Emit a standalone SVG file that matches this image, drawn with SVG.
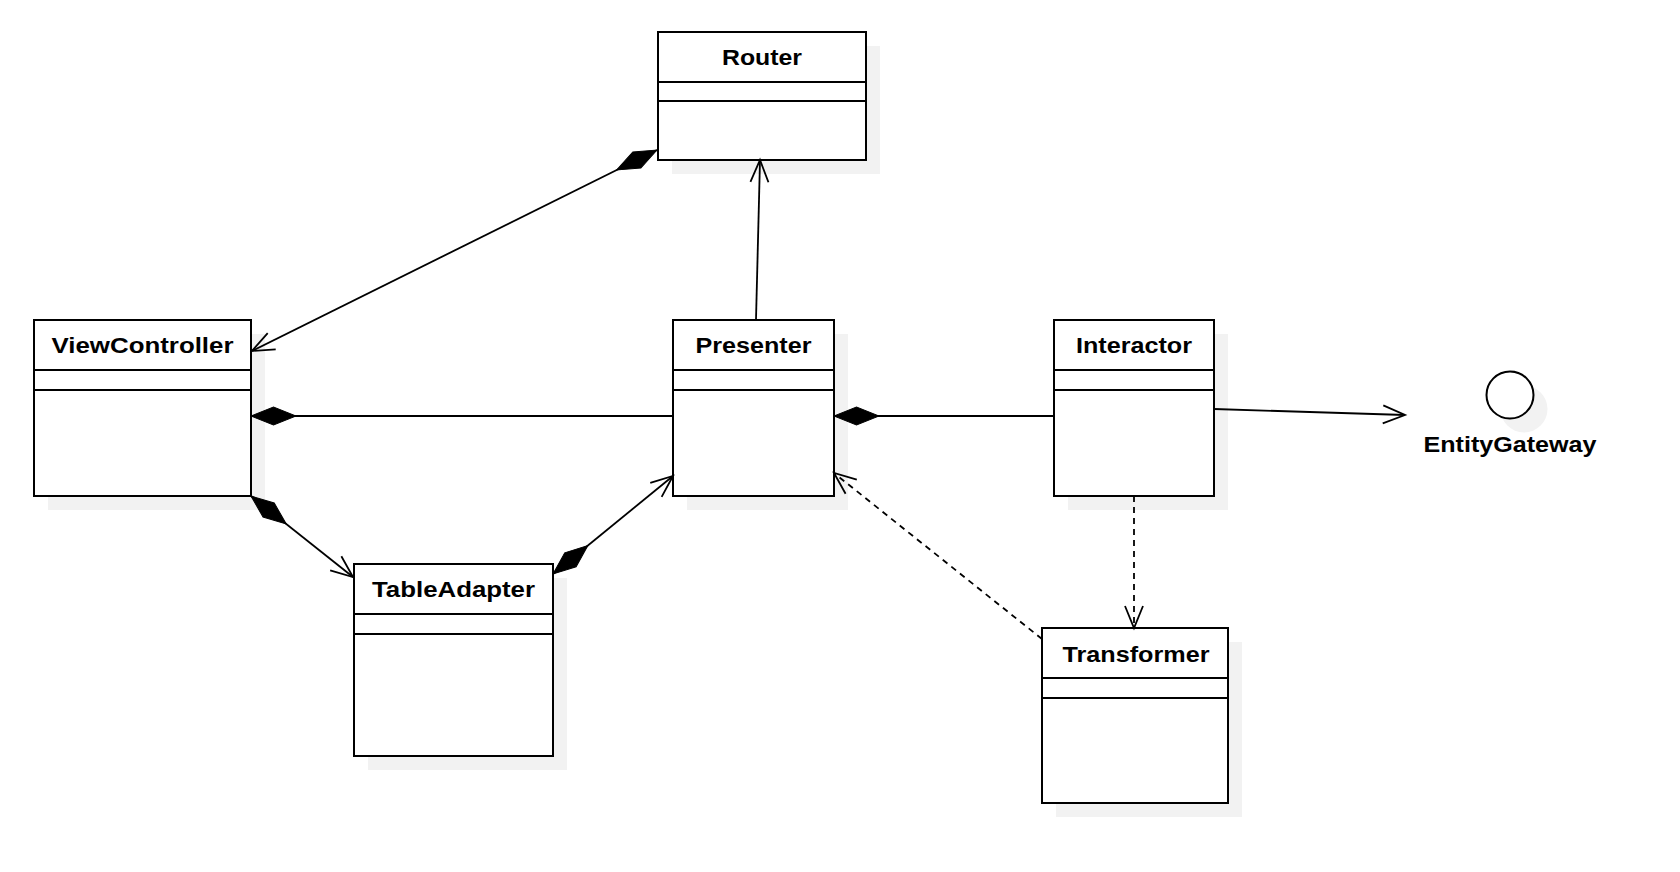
<svg xmlns="http://www.w3.org/2000/svg" width="1680" height="872" viewBox="0 0 1680 872">
<style>
.shadow{fill:#f2f2f2;stroke:none}
.box{fill:#ffffff;stroke:#000000;stroke-width:2}
.div{stroke:#000000;stroke-width:2}
.title{font-family:"Liberation Sans",Arial,sans-serif;font-weight:bold;font-size:22.5px;fill:#000000;text-anchor:middle}
.edge{fill:none;stroke:#000000;stroke-width:1.8}
.dash{stroke-dasharray:6 5}
</style>
<defs>
<marker id="open" markerUnits="userSpaceOnUse" markerWidth="30" markerHeight="30" refX="0" refY="0" orient="auto" overflow="visible">
<path d="M-22,-9 L0,0 L-22,9" fill="none" stroke="#000000" stroke-width="1.8"/>
</marker>
<marker id="diamond" markerUnits="userSpaceOnUse" markerWidth="50" markerHeight="30" refX="0" refY="0" orient="auto" overflow="visible">
<path d="M0,0 L22.5,-9 L45,0 L22.5,9 Z" fill="#000000" stroke="#000000" stroke-width="1"/>
</marker>
</defs>
<rect width="1680" height="872" fill="#ffffff"/>

<g id="Router">
<rect class="shadow" x="672" y="46" width="208" height="128"/>
<rect class="box" x="658" y="32" width="208" height="128"/>
<line class="div" x1="658" y1="82" x2="866" y2="82"/>
<line class="div" x1="658" y1="101" x2="866" y2="101"/>
<text class="title" x="762" y="65" textLength="80" lengthAdjust="spacingAndGlyphs">Router</text>
</g>

<g id="ViewController">
<rect class="shadow" x="48" y="334" width="217" height="176"/>
<rect class="box" x="34" y="320" width="217" height="176"/>
<line class="div" x1="34" y1="370" x2="251" y2="370"/>
<line class="div" x1="34" y1="390" x2="251" y2="390"/>
<text class="title" x="142.5" y="353" textLength="182" lengthAdjust="spacingAndGlyphs">ViewController</text>
</g>

<g id="Presenter">
<rect class="shadow" x="687" y="334" width="161" height="176"/>
<rect class="box" x="673" y="320" width="161" height="176"/>
<line class="div" x1="673" y1="370" x2="834" y2="370"/>
<line class="div" x1="673" y1="390" x2="834" y2="390"/>
<text class="title" x="753.5" y="353" textLength="116" lengthAdjust="spacingAndGlyphs">Presenter</text>
</g>

<g id="Interactor">
<rect class="shadow" x="1068" y="334" width="160" height="176"/>
<rect class="box" x="1054" y="320" width="160" height="176"/>
<line class="div" x1="1054" y1="370" x2="1214" y2="370"/>
<line class="div" x1="1054" y1="390" x2="1214" y2="390"/>
<text class="title" x="1134" y="353" textLength="116" lengthAdjust="spacingAndGlyphs">Interactor</text>
</g>

<g id="EntityGateway">
<circle cx="1524" cy="409" r="23.5" fill="#f2f2f2"/>
<circle cx="1510" cy="395" r="23.5" fill="#ffffff" stroke="#000000" stroke-width="2"/>
<text class="title" x="1510" y="452" textLength="173" lengthAdjust="spacingAndGlyphs">EntityGateway</text>
</g>

<g id="TableAdapter">
<rect class="shadow" x="368" y="578" width="199" height="192"/>
<rect class="box" x="354" y="564" width="199" height="192"/>
<line class="div" x1="354" y1="614" x2="553" y2="614"/>
<line class="div" x1="354" y1="634" x2="553" y2="634"/>
<text class="title" x="453.5" y="597" textLength="163" lengthAdjust="spacingAndGlyphs">TableAdapter</text>
</g>

<g id="Transformer">
<rect class="shadow" x="1056" y="642" width="186" height="175"/>
<rect class="box" x="1042" y="628" width="186" height="175"/>
<line class="div" x1="1042" y1="678" x2="1228" y2="678"/>
<line class="div" x1="1042" y1="698" x2="1228" y2="698"/>
<text class="title" x="1136" y="662" textLength="147" lengthAdjust="spacingAndGlyphs">Transformer</text>
</g>

<g id="connectors">
<path class="edge" d="M657,150 L252,351" marker-start="url(#diamond)" marker-end="url(#open)"/>
<path class="edge" d="M251,416 L673,416" marker-start="url(#diamond)"/>
<path class="edge" d="M834,416 L1054,416" marker-start="url(#diamond)"/>
<path class="edge" d="M251,496 L353,577" marker-start="url(#diamond)" marker-end="url(#open)"/>
<path class="edge" d="M553,574 L673,476" marker-start="url(#diamond)" marker-end="url(#open)"/>
<path class="edge" d="M756,320 L760,160" marker-end="url(#open)"/>
<path class="edge" d="M1214,409 L1405,415" marker-end="url(#open)"/>
<path class="edge dash" d="M1134,496 L1134,628" marker-end="url(#open)"/>
<path class="edge dash" d="M1042,639 L834,473" marker-end="url(#open)"/>
</g>
</svg>
